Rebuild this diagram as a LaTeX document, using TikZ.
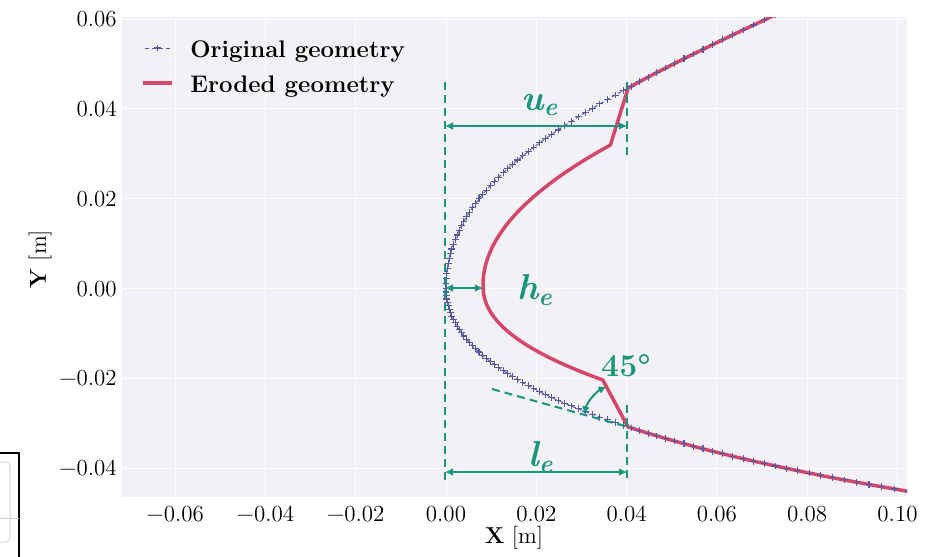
\documentclass[tikz,border=0pt]{standalone}
\usepackage{fontspec}
\usepackage{tikz}
\usetikzlibrary{arrows.meta}

\definecolor{axbg}{RGB}{242,242,246}
\definecolor{origcol}{RGB}{88,88,160}
\definecolor{erodcol}{RGB}{213,70,106}
\definecolor{dimcol}{RGB}{24,150,124}

\newcommand{\dimsym}[2]{\bfseries\itshape #1\textsubscript{#2}}

\tikzset{
  gridline/.style={white, line width=0.5pt},
  ticklabel/.style={font=\fontsize{11.5}{13}\selectfont, inner sep=0pt},
  legtext/.style={font=\fontsize{12}{14}\selectfont\bfseries, inner sep=0pt, anchor=base west},
  origline/.style={origcol, line width=0.5pt, dash pattern=on 2pt off 1.5pt},
  origmarks/.style={origcol, only marks, mark=+, mark size=1.7pt, mark options={solid, line width=0.55pt}},
  erodline/.style={erodcol, line width=1.75pt, line join=round, line cap=round},
  dimline/.style={dimcol, line width=1pt, dash pattern=on 4pt off 2.5pt},
  dimarrow/.style={dimcol, line width=1pt, {Latex[length=4pt,width=4pt]}-{Latex[length=4pt,width=4pt]}},
  dimlabel/.style={text=dimcol, font=\fontsize{18}{20}\selectfont, inner sep=0pt},
  declare function={
    ux(\s)=446+4515*\s*\s;
    uy(\s)=288.5-4490*(0.25444*\s-0.3119*\s*\s+0.7603*\s*\s*\s);
    ly(\s)=288.5+4490*(0.1743*\s-0.1036*\s*\s);
  }
}

\begin{document}
\begin{tikzpicture}[x=0.5pt, y=-0.5pt]
  \useasboundingbox (0,0) rectangle (927,557);

  \fill[axbg] (122,17) rectangle (907,497);
  \foreach \gx/\lab [count=\i] in {-6/−0.06, -4/−0.04, -2/−0.02, 0/0.00, 2/0.02, 4/0.04, 6/0.06, 8/0.08, 10/0.10} {
    \draw[gridline] ({446+45.15*\gx},17) -- ({446+45.15*\gx},497);
    \node[ticklabel, anchor=base] (xt\i) at ({446+45.15*\gx},521) {\lab};
  }
  \foreach \gy/\lab [count=\i] in {6/0.06, 4/0.04, 2/0.02, 0/0.00, -2/−0.02, -4/−0.04} {
    \draw[gridline] (122,{288.5-44.9*\gy}) -- (907,{288.5-44.9*\gy});
    \node[ticklabel, anchor=base east] (yt\i) at (117,{296-44.9*\gy}) {\lab};
  }
  \node[ticklabel] (xlab) at (514,538) {\textbf{X} [m]};
  \node[ticklabel, rotate=90] (ylab) at (40,259) {\textbf{Y} [m]};

  \begin{scope}
    \clip (122,17) rectangle (907,497);
    \draw[origline] plot[domain=0:0.275, samples=62] ({ux(\x)},{uy(\x)});
    \draw[origline] plot[domain=0:0.325, samples=73] ({ux(\x)},{ly(\x)});
    \coordinate (jL) at (628,427);
    \draw[erodline] plot[domain=0.275:0.2007, samples=15] ({ux(\x)},{uy(\x)})
      -- plot[domain=140:0.5, samples=40] ({483+0.0065*\x*\x},{285-\x})
      -- plot[domain=0.5:95, samples=40] ({483+0.00534*\x*\x*(\x^0.2)},{285+\x})
      -- (jL) -- plot[domain=0.2007:0.325, samples=25] ({ux(\x)},{ly(\x)});
    \path[origmarks] plot[domain=0:0.275, samples=62] ({ux(\x)},{uy(\x)});
    \path[origmarks] plot[domain=0:0.325, samples=73] ({ux(\x)},{ly(\x)});
  \end{scope}

  % legend
  \coordinate (lgOa) at (145,48);
  \coordinate (lgOb) at (170,48);
  \coordinate (lgOc) at (157.5,48);
  \coordinate (lgEa) at (143,83);
  \coordinate (lgEb) at (172,83);
  \draw[origline] (lgOa) -- (lgOb);
  \path[origmarks] plot coordinates {(lgOc)};
  \draw[erodline, line cap=butt] (lgEa) -- (lgEb);
  \node[legtext] (lgOtxt) at (190,57) {Original geometry};
  \node[legtext] (lgEtxt) at (190,92) {Eroded geometry};

  % dimensions
  \coordinate (zTop) at (445,82);
  \coordinate (zBot) at (445,480);
  \coordinate (fTop) at (627,82);
  \coordinate (fMid) at (627,158);
  \coordinate (fLow) at (627,405);
  \coordinate (fBot) at (627,480);
  \coordinate (uL) at (445,126);
  \coordinate (uR) at (627,126);
  \coordinate (hL) at (445,288);
  \coordinate (hR) at (483,288);
  \coordinate (lL) at (445,472);
  \coordinate (lR) at (627,472);
  \coordinate (tgA) at (492,389);
  \coordinate (tgB) at (628,427);
  \coordinate (aS) at (606.4,386.4);

  \draw[dimline] (zTop) -- (zBot);
  \draw[dimline] (fTop) -- (fMid);
  \draw[dimline] (fLow) -- (fBot);
  \draw[dimline] (tgA) -- (tgB);
  \draw[dimarrow] (uL) -- (uR);
  \draw[dimarrow] (hL) -- (hR);
  \draw[dimarrow] (lL) -- (lR);
  \draw[dimarrow] (aS) arc[start angle=242, end angle=196, radius=46];

  \node[dimlabel] (ue) at (540,105) {\dimsym{u}{e}};
  \node[dimlabel] (he) at (535,290) {\dimsym{h}{e}};
  \node[dimlabel] (le) at (541,457) {\dimsym{l}{e}};
  \node[dimlabel, font=\fontsize{16}{18}\selectfont] (ang) at (626,366) {\bfseries 45°};

  \draw[black, line width=0.6pt] (0,453) -- (19,453) -- (19,557);
  \draw[gray!35, line width=0.5pt, rounded corners=2pt] (0,462) -- (10,462) -- (10,542) -- (0,542);
  \draw[gray!35, line width=0.5pt] (0,518) -- (19,518);
\end{tikzpicture}
\end{document}
